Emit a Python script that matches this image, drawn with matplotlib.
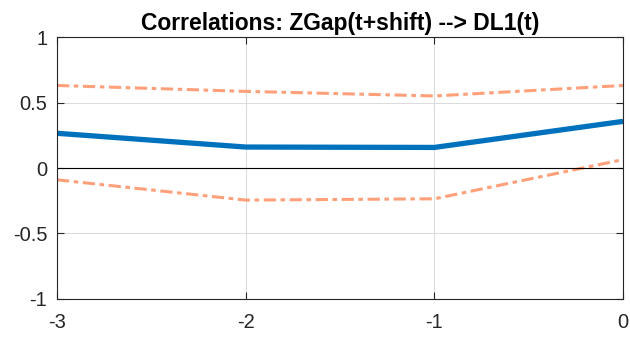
import numpy as np
import matplotlib
matplotlib.use('Agg')
from matplotlib import pyplot as plt

# data
shift = [-3, -2, -1, 0]
corr = [0.265, 0.16, 0.157, 0.356]
upper = [0.63, 0.585, 0.55, 0.63]
lower = [-0.09, -0.245, -0.235, 0.064]
xticks = [-3, -2, -1, 0]
yticks = [-1, -0.5, 0, 0.5, 1]
ytick_labels = ['-1', '-0.5', '0', '0.5', '1']

plt.rcParams['font.family'] = ['Liberation Sans', 'DejaVu Sans']

fig = plt.figure(figsize=(6.3, 3.38), dpi=100)
ax = fig.add_axes([0.0905, 0.1154, 0.8985, 0.7751])

salmon = '#FFA07A'
ax.plot(shift, upper, color=salmon, lw=2.2, dashes=(4, 1.5, 1.5, 1.5))
ax.plot(shift, lower, color=salmon, lw=2.2, dashes=(4, 1.5, 1.5, 1.5))
ax.plot(shift, corr, color='#0072BD', lw=3.8, solid_capstyle='butt')
ax.axhline(0, color='black', lw=0.8)

ax.set_xlim(-3, 0)
ax.set_ylim(-1, 1)
ax.set_xticks(xticks)
ax.set_xticklabels([str(t) for t in xticks])
ax.set_yticks(yticks)
ax.set_yticklabels(ytick_labels)
ax.grid(True, color='#dcdcdc', lw=0.8)
ax.set_axisbelow(True)
ax.tick_params(direction='in', top=True, right=True, length=5, width=0.8,
               colors='#262626', labelsize=14.5)
ax.tick_params(axis='x', pad=10)
ax.tick_params(axis='y', pad=7)
for s in ax.spines.values():
    s.set_color('#262626')
    s.set_linewidth(0.8)
ax.set_title('Correlations: ZGap(t+shift) --> DL1(t)', fontsize=16.5,
             fontweight='bold', pad=5)

fig.savefig('out.png', dpi=100)
